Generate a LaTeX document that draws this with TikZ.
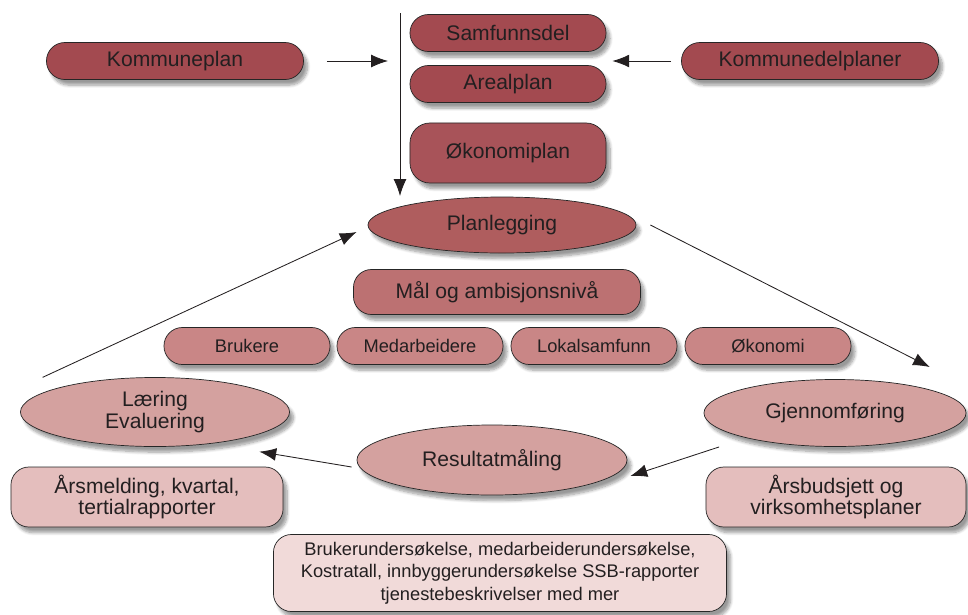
\documentclass[tikz,border=0pt]{standalone}
\usepackage{fontspec}
\setmainfont{Liberation Sans}
\usetikzlibrary{shapes.geometric,arrows.meta,shadows.blur}
\definecolor{txt}{HTML}{231F20}
\definecolor{plandark}{HTML}{A34A50}
\definecolor{planmid}{HTML}{AF5D5E}
\definecolor{planmaal}{HTML}{BC7172}
\definecolor{planrow}{HTML}{C98686}
\definecolor{planoval}{HTML}{D4A19F}
\definecolor{planlight}{HTML}{E4BEBD}
\definecolor{planpale}{HTML}{F1DAD9}
\begin{document}
\begin{tikzpicture}
[x=0.025cm,y=-0.025cm,
 every node/.style={text=txt,draw=black!85,line width=0.5pt,inner sep=0pt,align=center,
   blur shadow={shadow xshift=0.1cm,shadow yshift=-0.14cm,shadow blur steps=8,shadow opacity=40}},
 big/.style={font=\fontsize{15}{15}\selectfont},
 small/.style={font=\fontsize{13}{16}\selectfont},
 pill/.style={rectangle,rounded corners=0.46cm,minimum height=0.925cm},
 box/.style={rectangle,rounded corners=0.45cm},
 oval/.style={ellipse},
 arr/.style={-{Latex[length=4.2mm,width=3.2mm]},line width=0.6pt,draw=txt}]
\useasboundingbox (0,0) rectangle (968,614);
\path (175,61) node (kommuneplan) [pill,big,fill=plandark,minimum width=6.425cm] {Kommuneplan}
(508,33) node (samfunnsdel) [pill,big,fill=plandark,minimum width=4.9cm] {Samfunnsdel}
(508,84) node (arealplan) [pill,big,fill=plandark,minimum width=4.9cm] {Arealplan}
(508,153) node (okonomiplan) [box,big,fill=plandark!95!white,minimum width=4.9cm,minimum height=1.5cm,rounded corners=0.5cm] {Økonomiplan}
(810,61) node (kommunedelplaner) [pill,big,fill=plandark,minimum width=6.425cm] {Kommunedelplaner}
(502,225) node (planlegging) [oval,big,fill=planmid,minimum width=6.7cm,minimum height=1.4cm] {Planlegging}
(497,292) node (maal) [box,big,fill=planmaal,minimum width=7.175cm,minimum height=1.125cm] {Mål og ambisjonsnivå}
(247,346) node (brukere) [pill,small,fill=planrow,minimum width=4.15cm] {Brukere}
(420,346) node (medarbeidere) [pill,small,fill=planrow,minimum width=4.15cm] {Medarbeidere}
(594,346) node (lokalsamfunn) [pill,small,fill=planrow,minimum width=4.15cm] {Lokalsamfunn}
(768,346) node (okonomi) [pill,small,fill=planrow,minimum width=4.15cm] {Økonomi}
(155,412) node (laering) [oval,big,fill=planoval,minimum width=6.725cm,minimum height=1.725cm] {Læring\\Evaluering}
(835,413) node (gjennomforing) [oval,big,fill=planoval,minimum width=6.55cm,minimum height=1.675cm] {Gjennomføring}
(492,460) node (resultat) [oval,big,fill=planoval,minimum width=6.75cm,minimum height=1.75cm] {Resultatmåling}
(147,497) node (aarsmelding) [box,big,fill=planlight,minimum width=6.8cm,minimum height=1.5cm] {Årsmelding, kvartal,\\tertialrapporter}
(836,497) node (aarsbudsjett) [box,big,fill=planlight,minimum width=6.5cm,minimum height=1.5cm] {Årsbudsjett og\\virksomhetsplaner}
(500,573) node (kilder) [box,small,fill=planpale,minimum width=11.325cm,minimum height=1.925cm] {Brukerundersøkelse, medarbeiderundersøkelse,\\Kostratall, innbyggerundersøkelse SSB-rapporter\\tjenestebeskrivelser med mer};
\coordinate (vtop) at (400,13);
\coordinate (vbot) at (400,196);
\draw [arr] (vtop) -- (vbot);
\draw [arr,shorten <=0.575cm,shorten >=0.3cm] (kommuneplan.east) -- (vbot |- kommuneplan.east);
\draw [arr,shorten <=0.25cm,shorten >=0.15cm] (kommunedelplaner.west) -- (samfunnsdel.east |- kommunedelplaner.west);
\draw [arr] ([xshift=-0.425cm,yshift=0.25cm]laering.north west) -- ([xshift=-0.275cm,yshift=-0.175cm]planlegging.west);
\draw [arr] ([xshift=0.35cm]planlegging.east) -- ([xshift=0.05cm,yshift=0.55cm]gjennomforing.north east);
\draw [arr] ([xshift=-0.575cm,yshift=-0.25cm]gjennomforing.south west) -- ([xshift=0.075cm,yshift=-0.4cm]resultat.east);
\draw [arr] ([xshift=-0.125cm,yshift=-0.175cm]resultat.west) -- ([xshift=0.225cm,yshift=-0.375cm]laering.south east);
\end{tikzpicture}
\end{document}
